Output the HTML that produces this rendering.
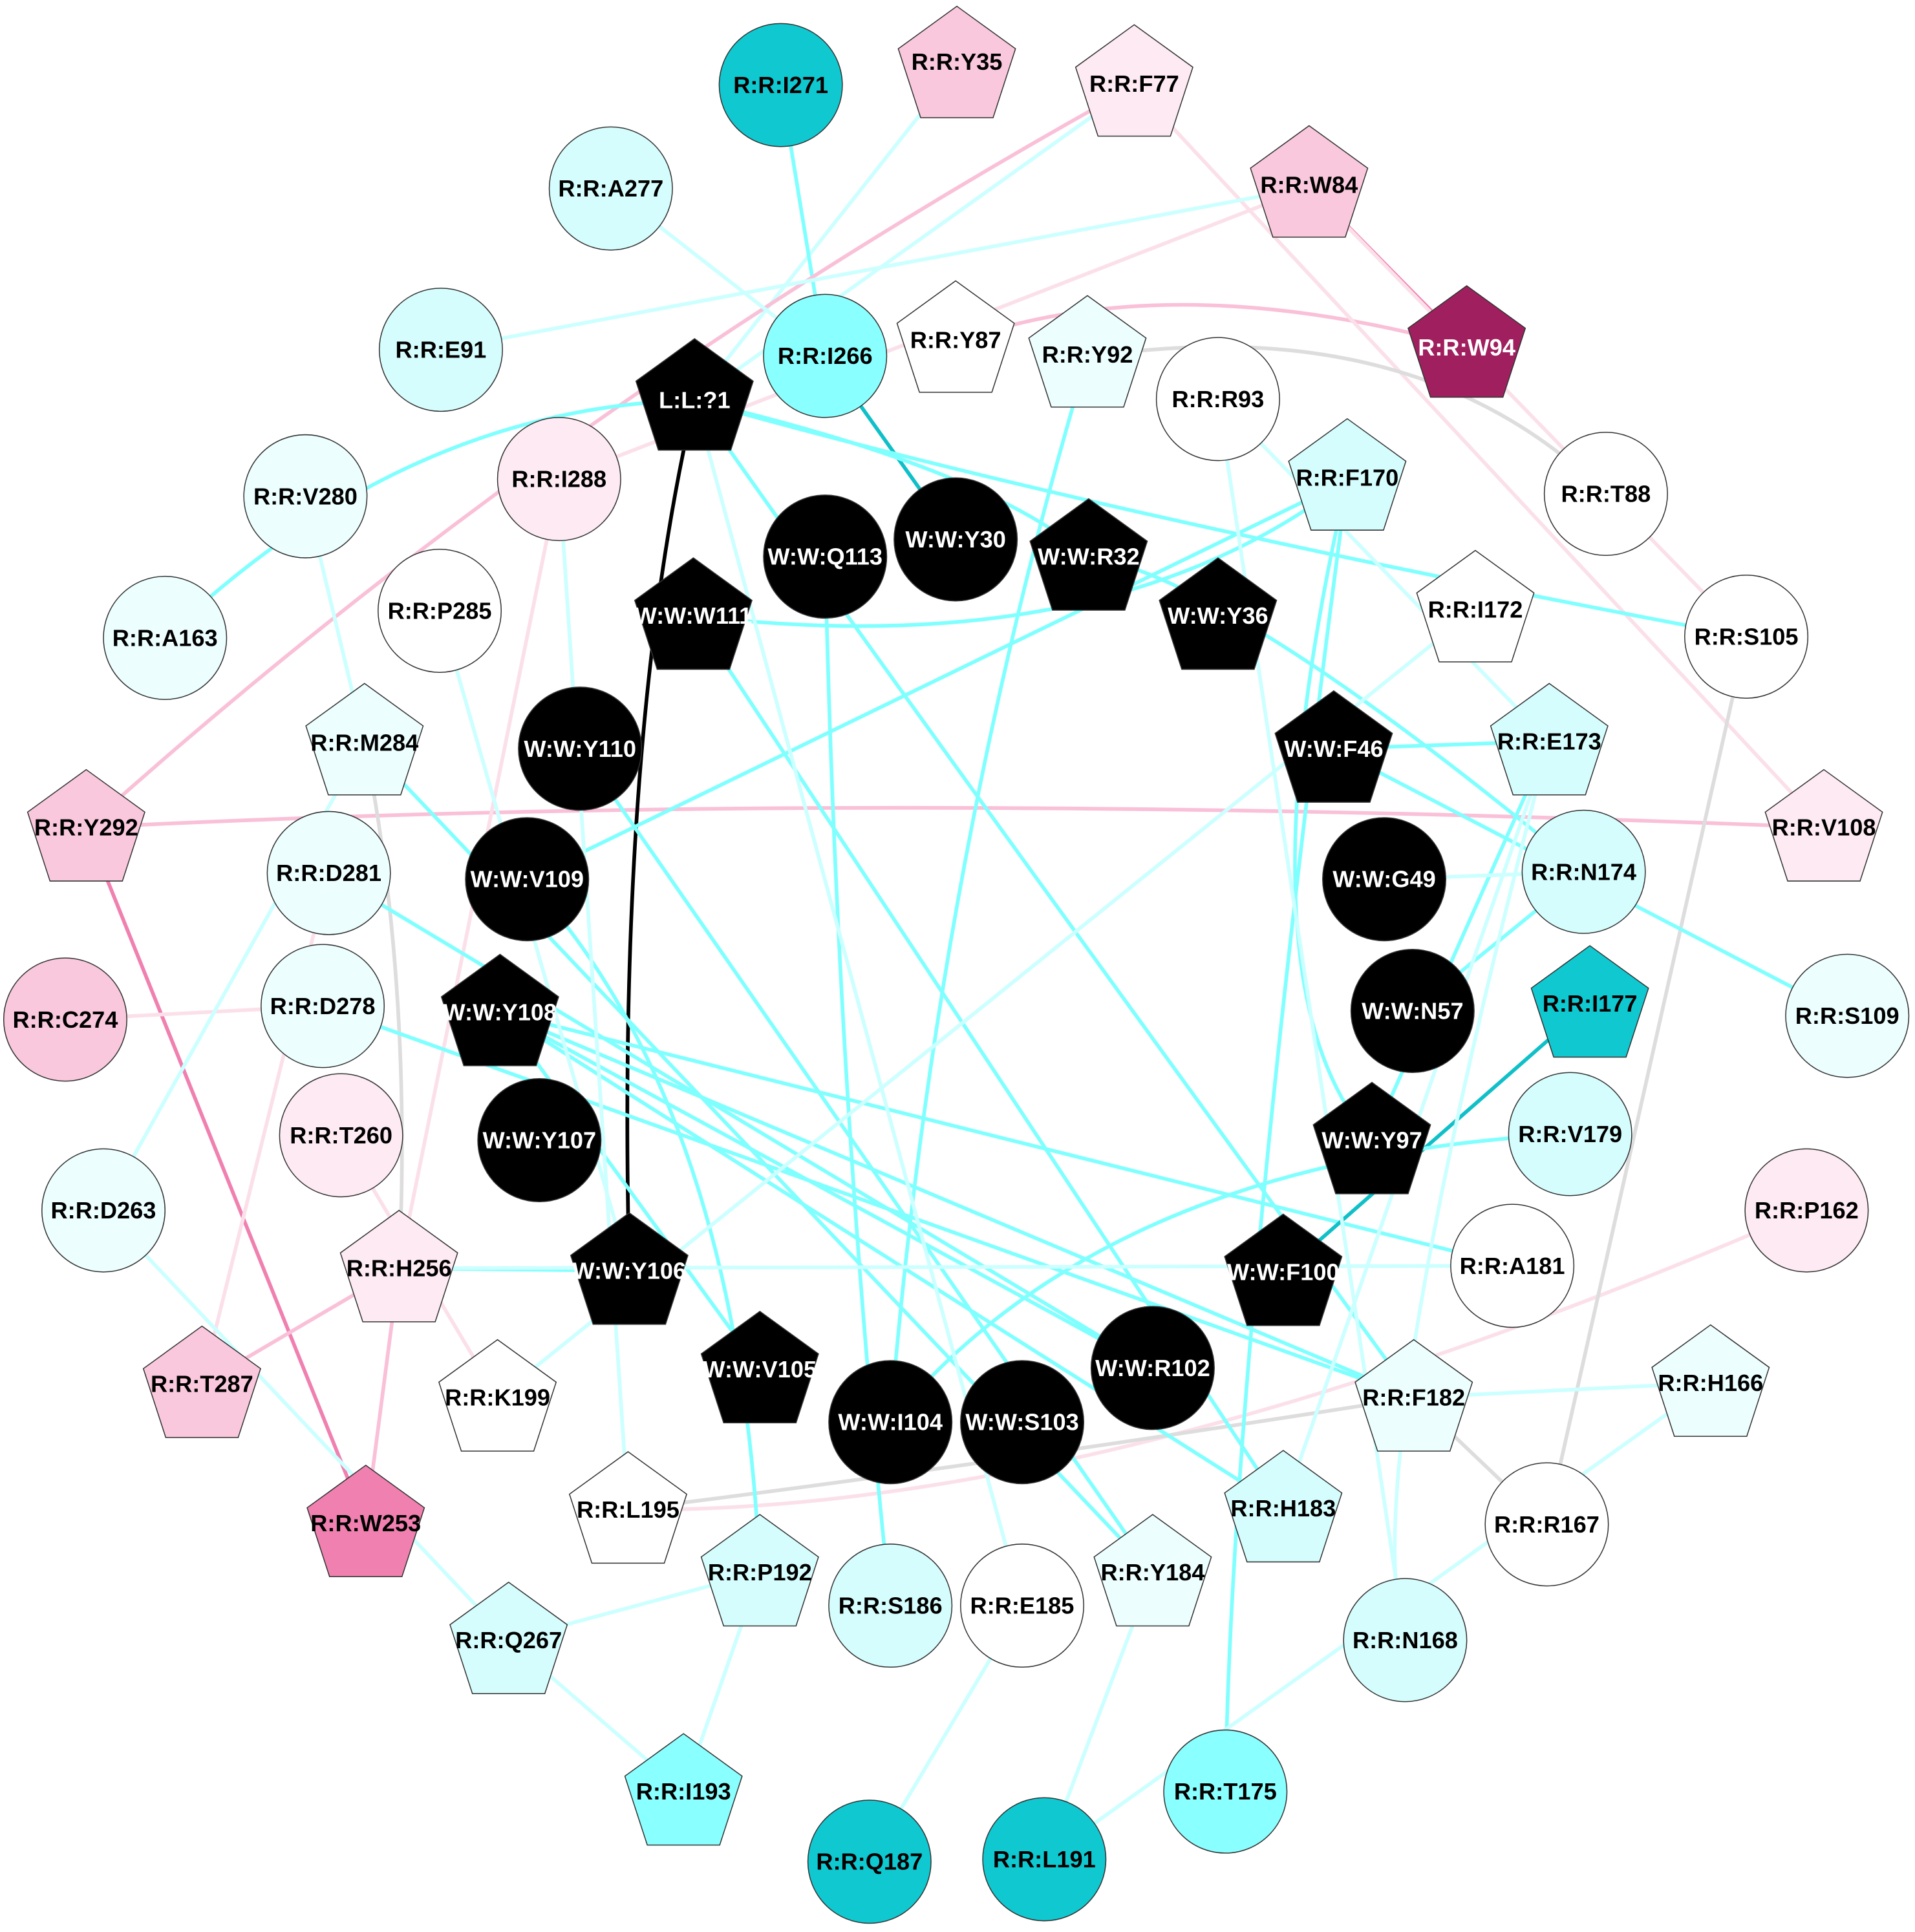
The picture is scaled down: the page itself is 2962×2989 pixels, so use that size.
<!DOCTYPE html>
<html><head><meta charset="utf-8"><style>
html,body{margin:0;padding:0;background:#fff}
svg{display:block}
text{font-family:"Liberation Sans",Arial,sans-serif;font-weight:bold;font-size:19px;text-anchor:middle;dominant-baseline:central}
.n{stroke:#333;stroke-width:0.8}
.e{fill:none;stroke-width:3}
.c1{stroke:#80ffff}.c2{stroke:#ccffff}.c3{stroke:#10c0c8}.p1{stroke:#f080b0}.p2{stroke:#f9c0d8}.p3{stroke:#fbe0ea}.g{stroke:#dddddd}.k{stroke:#000}
</style></head><body>
<svg width="2962" height="2989" viewBox="0 0 1555 1569" xmlns="http://www.w3.org/2000/svg">
<defs><polygon id="pg" points="0,-50 47.6,-15.5 29.4,40.5 -29.4,40.5 -47.6,-15.5"/></defs>
<g>
<path class="e c2" d="M777,55 L564,325"/>
<path class="e c2" d="M921,70 L564,325"/>
<path class="e c1" d="M634,69 L670,289"/>
<path class="e c3" d="M670,289 L776,438"/>
<path class="e p1" d="M1063,152 L1191,282" style="stroke-width:3.5"/>
<path class="e p2" d="M776,278 Q950,215 1191,282"/>
<path class="e p2" d="M921,70 Q450,330 70,672"/>
<path class="e p3" d="M921,70 L1481,672"/>
<path class="e p3" d="M1063,152 L454,389"/>
<path class="e p3" d="M1063,152 L1418,517"/>
<path class="e p2" d="M70,672 Q700,640 1481,672"/>
<path class="e p1" d="M70,672 L297,1237"/>
<path class="e p2" d="M324,1030 L297,1237"/>
<path class="e p2" d="M324,1030 L164,1124"/>
<path class="e p3" d="M53,828 L262,817"/>
<path class="e p3" d="M1467,983 Q900,1230 510,1226"/>
<path class="e p3" d="M454,389 L324,1030"/>
<path class="e p3" d="M267,709 L164,1124"/>
<path class="e p3" d="M277,922 L404,1135"/>
<path class="e g" d="M883,290 Q1150,250 1304,401"/>
<path class="e g" d="M1418,517 L1256,1238"/>
<path class="e g" d="M1148,1135 Q800,1190 510,1226"/>
<path class="e g" d="M1148,1135 L1256,1238"/>
<path class="e g" d="M296,603 Q335,800 324,1030"/>
<path class="e k" d="M564,325 Q500,600 511,1032"/>
<path class="e c1" d="M564,325 Q330,330 134,518"/>
<path class="e c1" d="M564,325 Q800,380 884,452 Q1000,470 1286,708"/>
<path class="e c1" d="M564,325 Q900,420 1418,517"/>
<path class="e c1" d="M564,325 Q700,520 1148,1135"/>
<path class="e c1" d="M563,500 Q900,540 1094,390"/>
<path class="e c1" d="M563,500 L1042,1225"/>
<path class="e c1" d="M428,714 L1094,390"/>
<path class="e c1" d="M1094,390 Q1000,800 1114,926"/>
<path class="e c1" d="M1094,390 Q1000,1100 995,1455"/>
<path class="e c1" d="M406,822 L1148,1135"/>
<path class="e c1" d="M406,822 L1228,1028"/>
<path class="e c1" d="M406,822 L1042,1225"/>
<path class="e c1" d="M406,822 L936,1111"/>
<path class="e c1" d="M406,822 L617,1112"/>
<path class="e c1" d="M267,709 L936,1111"/>
<path class="e c1" d="M262,817 L1148,1135"/>
<path class="e c1" d="M883,290 Q760,700 723,1155"/>
<path class="e c1" d="M1083,608 L1258,602"/>
<path class="e c1" d="M1258,602 L1114,926"/>
<path class="e c1" d="M1083,608 L1500,825"/>
<path class="e c2" d="M1286,708 L1124,714"/>
<path class="e c1" d="M1286,708 L1147,821"/>
<path class="e c3" d="M1291,815 L1042,1033"/>
<path class="e c1" d="M1275,921 Q900,940 723,1155"/>
<path class="e c1" d="M296,603 L936,1277"/>
<path class="e c1" d="M670,452 Q680,900 723,1304"/>
<path class="e c1" d="M471,608 L936,1277"/>
<path class="e c1" d="M428,714 Q600,900 617,1277"/>
<path class="e c1" d="M324,1030 L511,1032"/>
<path class="e c2" d="M324,1030 L1228,1028"/>
<path class="e c2" d="M358,284 L1063,152"/>
<path class="e c2" d="M496,153 L670,289"/>
<path class="e c2" d="M1389,1123 L848,1510"/>
<path class="e c2" d="M1389,1123 L1148,1135"/>
<path class="e c2" d="M830,1304 L706,1512"/>
<path class="e c2" d="M555,1455 L413,1332"/>
<path class="e c2" d="M555,1455 L617,1277"/>
<path class="e c2" d="M413,1332 L617,1277"/>
<path class="e c2" d="M936,1277 L848,1510"/>
<path class="e c2" d="M248,403 L296,603"/>
<path class="e c2" d="M84,983 L296,603"/>
<path class="e c2" d="M357,496 L511,1032"/>
<path class="e c2" d="M454,389 L510,1226"/>
<path class="e c2" d="M84,983 L413,1332"/>
<path class="e c2" d="M989,324 L1258,602"/>
<path class="e c2" d="M989,324 L1141,1332"/>
<path class="e c2" d="M1198,495 L404,1135"/>
<path class="e c2" d="M564,325 L830,1304"/>
<path class="e c2" d="M1258,602 L1042,1225"/>
<path class="e c2" d="M1258,602 Q1100,1200 1141,1332"/>
</g>
<g>
<circle class="n" cx="634" cy="69" r="50" fill="#10c8d0"/><text x="634" y="69">R:R:I271</text>
<use href="#pg" x="777" y="55" class="n" fill="#f9c8dc"/><text x="777" y="50">R:R:Y35</text>
<use href="#pg" x="921" y="70" class="n" fill="#fdeaf2"/><text x="921" y="68">R:R:F77</text>
<circle class="n" cx="496" cy="153" r="50" fill="#d6fdfd"/><text x="496" y="153">R:R:A277</text>
<use href="#pg" x="1063" y="152" class="n" fill="#f9c8dc"/><text x="1063" y="150">R:R:W84</text>
<circle class="n" cx="358" cy="284" r="50" fill="#d6fdfd"/><text x="358" y="284">R:R:E91</text>
<circle class="n" cx="670" cy="289" r="50" fill="#8affff"/><text x="670" y="289">R:R:I266</text>
<use href="#pg" x="776" y="278" class="n" fill="#ffffff"/><text x="776" y="276">R:R:Y87</text>
<use href="#pg" x="883" y="290" class="n" fill="#ecfefe"/><text x="883" y="288">R:R:Y92</text>
<use href="#pg" x="1191" y="282" class="n" fill="#a0205f"/><text x="1191" y="282" fill="#fff">R:R:W94</text>
<use href="#pg" x="564" y="325" class="n" fill="#000"/><text x="564" y="325" fill="#fff">L:L:?1</text>
<circle class="n" cx="989" cy="324" r="50" fill="#ffffff"/><text x="989" y="324">R:R:R93</text>
<circle class="n" cx="248" cy="403" r="50" fill="#ecfefe"/><text x="248" y="403">R:R:V280</text>
<circle class="n" cx="454" cy="389" r="50" fill="#fdeaf2"/><text x="454" y="389">R:R:I288</text>
<use href="#pg" x="1094" y="390" class="n" fill="#d6fdfd"/><text x="1094" y="388">R:R:F170</text>
<circle class="n" cx="1304" cy="401" r="50" fill="#ffffff"/><text x="1304" y="401">R:R:T88</text>
<circle class="n" cx="670" cy="452" r="50" fill="#000"/><text x="670" y="452" fill="#fff">W:W:Q113</text>
<circle class="n" cx="776" cy="438" r="50" fill="#000"/><text x="776" y="438" fill="#fff">W:W:Y30</text>
<use href="#pg" x="884" y="455" class="n" fill="#000"/><text x="884" y="452" fill="#fff">W:W:R32</text>
<use href="#pg" x="989" y="503" class="n" fill="#000"/><text x="989" y="500" fill="#fff">W:W:Y36</text>
<circle class="n" cx="134" cy="518" r="50" fill="#ecfefe"/><text x="134" y="518">R:R:A163</text>
<circle class="n" cx="357" cy="496" r="50" fill="#ffffff"/><text x="357" y="496">R:R:P285</text>
<use href="#pg" x="563" y="503" class="n" fill="#000"/><text x="563" y="500" fill="#fff">W:W:W111</text>
<use href="#pg" x="1198" y="497" class="n" fill="#ffffff"/><text x="1198" y="495">R:R:I172</text>
<circle class="n" cx="1418" cy="517" r="50" fill="#ffffff"/><text x="1418" y="517">R:R:S105</text>
<use href="#pg" x="296" y="605" class="n" fill="#ecfefe"/><text x="296" y="603">R:R:M284</text>
<circle class="n" cx="471" cy="608" r="50" fill="#000"/><text x="471" y="608" fill="#fff">W:W:Y110</text>
<use href="#pg" x="1083" y="611" class="n" fill="#000"/><text x="1083" y="608" fill="#fff">W:W:F46</text>
<use href="#pg" x="1258" y="605" class="n" fill="#d6fdfd"/><text x="1258" y="602">R:R:E173</text>
<use href="#pg" x="70" y="675" class="n" fill="#f9c8dc"/><text x="70" y="672">R:R:Y292</text>
<use href="#pg" x="1481" y="675" class="n" fill="#fdeaf2"/><text x="1481" y="672">R:R:V108</text>
<circle class="n" cx="267" cy="709" r="50" fill="#ecfefe"/><text x="267" y="709">R:R:D281</text>
<circle class="n" cx="428" cy="714" r="50" fill="#000"/><text x="428" y="714" fill="#fff">W:W:V109</text>
<circle class="n" cx="1124" cy="714" r="50" fill="#000"/><text x="1124" y="714" fill="#fff">W:W:G49</text>
<circle class="n" cx="1286" cy="708" r="50" fill="#d6fdfd"/><text x="1286" y="708">R:R:N174</text>
<circle class="n" cx="53" cy="828" r="50" fill="#f9c8dc"/><text x="53" y="828">R:R:C274</text>
<circle class="n" cx="262" cy="817" r="50" fill="#ecfefe"/><text x="262" y="817">R:R:D278</text>
<use href="#pg" x="406" y="825" class="n" fill="#000"/><text x="406" y="822" fill="#fff">W:W:Y108</text>
<circle class="n" cx="1147" cy="821" r="50" fill="#000"/><text x="1147" y="821" fill="#fff">W:W:N57</text>
<use href="#pg" x="1291" y="818" class="n" fill="#10c8d0"/><text x="1291" y="815">R:R:I177</text>
<circle class="n" cx="1500" cy="825" r="50" fill="#ecfefe"/><text x="1500" y="825">R:R:S109</text>
<circle class="n" cx="277" cy="922" r="50" fill="#fdeaf2"/><text x="277" y="922">R:R:T260</text>
<circle class="n" cx="438" cy="926" r="50" fill="#000"/><text x="438" y="926" fill="#fff">W:W:Y107</text>
<use href="#pg" x="1114" y="929" class="n" fill="#000"/><text x="1114" y="926" fill="#fff">W:W:Y97</text>
<circle class="n" cx="1275" cy="921" r="50" fill="#d6fdfd"/><text x="1275" y="921">R:R:V179</text>
<circle class="n" cx="84" cy="983" r="50" fill="#ecfefe"/><text x="84" y="983">R:R:D263</text>
<circle class="n" cx="1467" cy="983" r="50" fill="#fdeaf2"/><text x="1467" y="983">R:R:P162</text>
<use href="#pg" x="324" y="1033" class="n" fill="#fdeaf2"/><text x="324" y="1030">R:R:H256</text>
<use href="#pg" x="511" y="1035" class="n" fill="#000"/><text x="511" y="1032" fill="#fff">W:W:Y106</text>
<use href="#pg" x="1042" y="1036" class="n" fill="#000"/><text x="1042" y="1033" fill="#fff">W:W:F100</text>
<circle class="n" cx="1228" cy="1028" r="50" fill="#ffffff"/><text x="1228" y="1028">R:R:A181</text>
<use href="#pg" x="617" y="1115" class="n" fill="#000"/><text x="617" y="1112" fill="#fff">W:W:V105</text>
<circle class="n" cx="936" cy="1111" r="50" fill="#000"/><text x="936" y="1111" fill="#fff">W:W:R102</text>
<use href="#pg" x="164" y="1127" class="n" fill="#f9c8dc"/><text x="164" y="1124">R:R:T287</text>
<use href="#pg" x="404" y="1138" class="n" fill="#ffffff"/><text x="404" y="1135">R:R:K199</text>
<circle class="n" cx="723" cy="1155" r="50" fill="#000"/><text x="723" y="1155" fill="#fff">W:W:I104</text>
<circle class="n" cx="830" cy="1155" r="50" fill="#000"/><text x="830" y="1155" fill="#fff">W:W:S103</text>
<use href="#pg" x="1148" y="1138" class="n" fill="#ecfefe"/><text x="1148" y="1135">R:R:F182</text>
<use href="#pg" x="1389" y="1126" class="n" fill="#ecfefe"/><text x="1389" y="1123">R:R:H166</text>
<use href="#pg" x="297" y="1240" class="n" fill="#f080b0"/><text x="297" y="1237">R:R:W253</text>
<use href="#pg" x="510" y="1229" class="n" fill="#ffffff"/><text x="510" y="1226">R:R:L195</text>
<use href="#pg" x="1042" y="1228" class="n" fill="#d6fdfd"/><text x="1042" y="1225">R:R:H183</text>
<circle class="n" cx="1256" cy="1238" r="50" fill="#ffffff"/><text x="1256" y="1238">R:R:R167</text>
<use href="#pg" x="617" y="1280" class="n" fill="#d6fdfd"/><text x="617" y="1277">R:R:P192</text>
<circle class="n" cx="723" cy="1304" r="50" fill="#d6fdfd"/><text x="723" y="1304">R:R:S186</text>
<circle class="n" cx="830" cy="1304" r="50" fill="#ffffff"/><text x="830" y="1304">R:R:E185</text>
<use href="#pg" x="936" y="1280" class="n" fill="#ecfefe"/><text x="936" y="1277">R:R:Y184</text>
<use href="#pg" x="413" y="1335" class="n" fill="#d6fdfd"/><text x="413" y="1332">R:R:Q267</text>
<circle class="n" cx="1141" cy="1332" r="50" fill="#d6fdfd"/><text x="1141" y="1332">R:R:N168</text>
<use href="#pg" x="555" y="1458" class="n" fill="#8affff"/><text x="555" y="1455">R:R:I193</text>
<circle class="n" cx="995" cy="1455" r="50" fill="#8affff"/><text x="995" y="1455">R:R:T175</text>
<circle class="n" cx="706" cy="1512" r="50" fill="#10c8d0"/><text x="706" y="1512">R:R:Q187</text>
<circle class="n" cx="848" cy="1510" r="50" fill="#10c8d0"/><text x="848" y="1510">R:R:L191</text>
</g>
</svg>
</body></html>
